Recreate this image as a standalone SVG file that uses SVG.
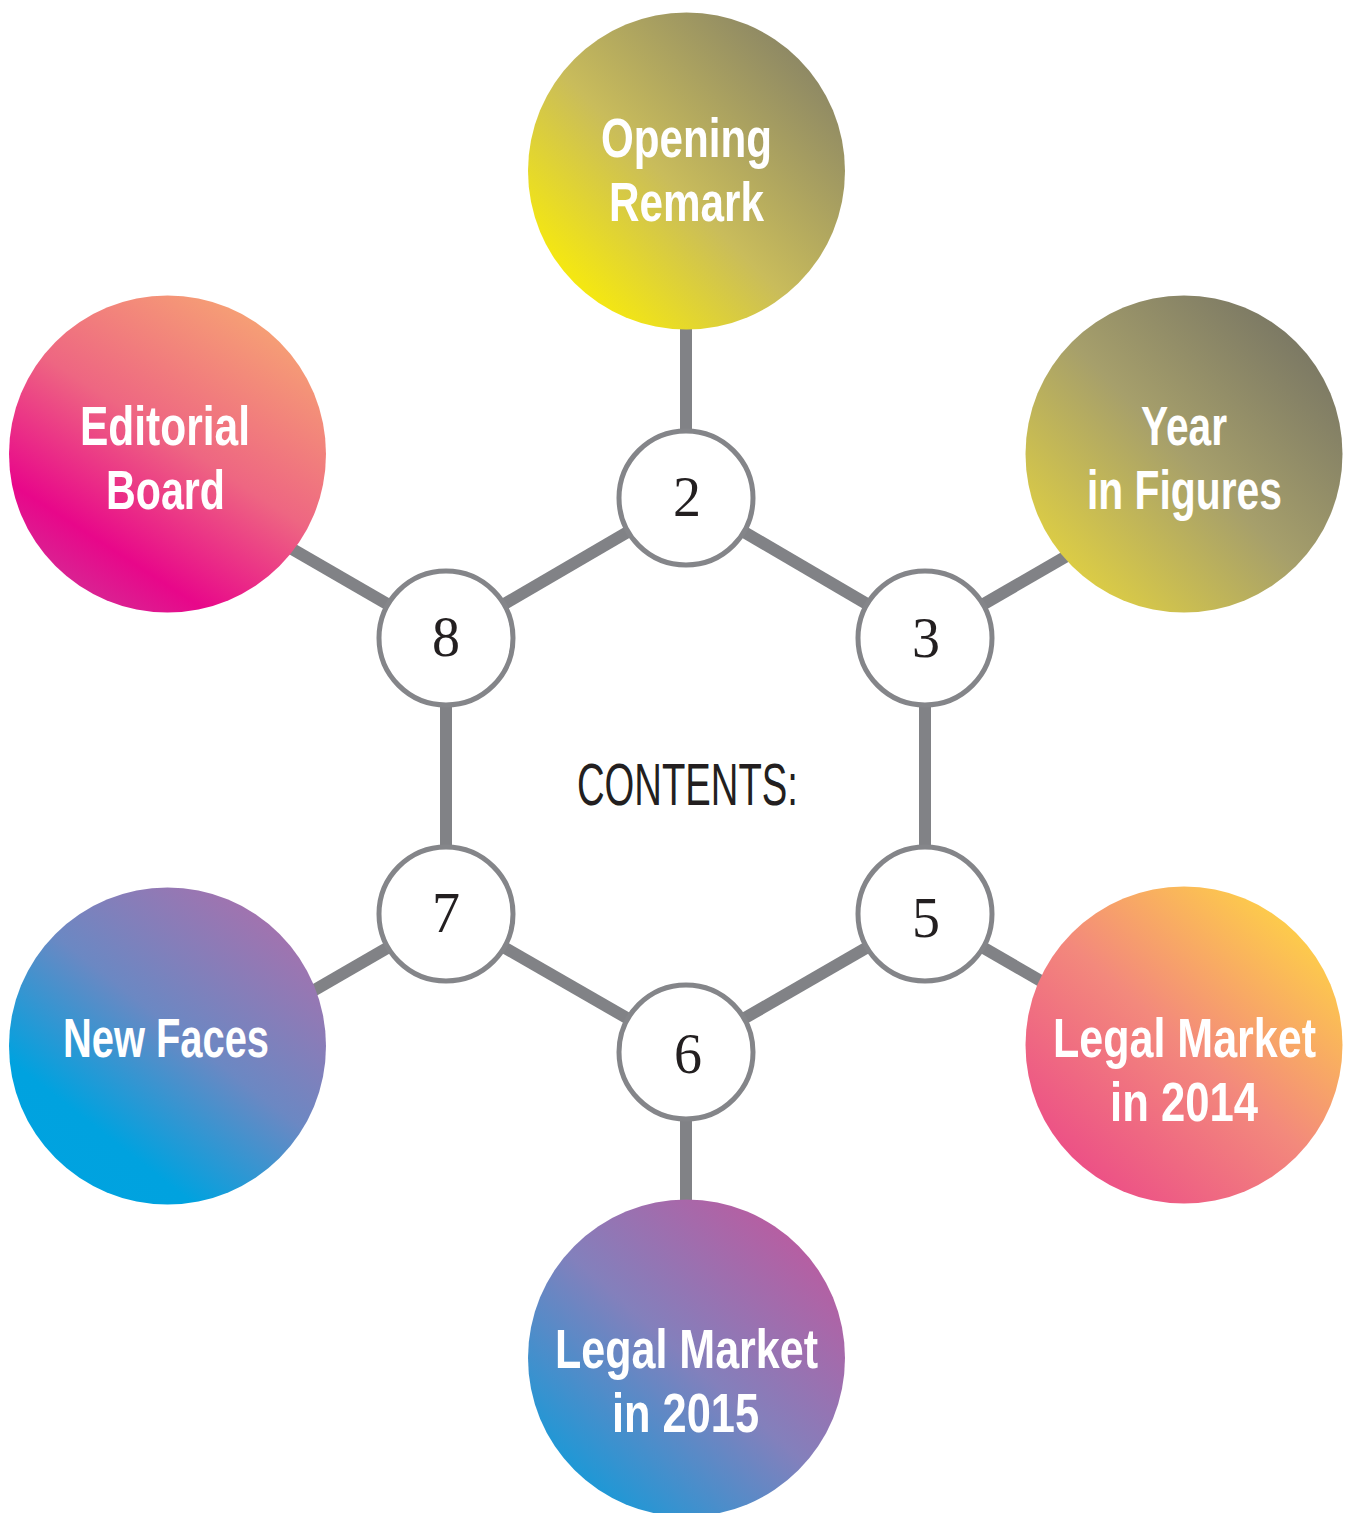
<svg xmlns="http://www.w3.org/2000/svg" width="1351" height="1513" viewBox="0 0 1351 1513">
<defs>
<style>
.link{stroke:#818286;stroke-width:12;fill:none}
.num{fill:#fff;stroke:#848589;stroke-width:5}
.numt{font-family:"Liberation Serif","DejaVu Serif",serif;font-size:56px;fill:#231f20;text-anchor:middle}
.lbl{font-family:"Liberation Sans Narrow","Liberation Sans","DejaVu Sans Condensed",sans-serif;font-weight:bold;font-size:56px;fill:#fff;text-anchor:middle}
.title{font-family:"Liberation Sans Narrow","Liberation Sans","DejaVu Sans Condensed",sans-serif;font-size:60px;fill:#231f20;text-anchor:middle}
</style>
<linearGradient id="gOpen" x1="0.1" y1="0.95" x2="0.95" y2="0.1">
<stop offset="0" stop-color="#fff200"/>
<stop offset="0.45" stop-color="#c9bc5b"/>
<stop offset="1" stop-color="#848066"/>
</linearGradient>
<linearGradient id="gYear" x1="0.1" y1="0.95" x2="0.95" y2="0.1">
<stop offset="0" stop-color="#e6d53e"/>
<stop offset="0.5" stop-color="#a69f6b"/>
<stop offset="1" stop-color="#747263"/>
</linearGradient>
<linearGradient id="gEdit" x1="0.15" y1="1" x2="0.8" y2="0">
<stop offset="0" stop-color="#cf3598"/>
<stop offset="0.22" stop-color="#e8078a"/>
<stop offset="0.55" stop-color="#ee6682"/>
<stop offset="1" stop-color="#f7a873"/>
</linearGradient>
<linearGradient id="gNew" x1="0.15" y1="0.95" x2="0.85" y2="0.05">
<stop offset="0" stop-color="#00a3e0"/>
<stop offset="0.2" stop-color="#00a2df"/>
<stop offset="0.55" stop-color="#6b88c3"/>
<stop offset="1" stop-color="#a970ac"/>
</linearGradient>
<linearGradient id="g14" x1="0.1" y1="0.95" x2="0.9" y2="0.05">
<stop offset="0" stop-color="#eb4688"/>
<stop offset="0.5" stop-color="#f3897c"/>
<stop offset="1" stop-color="#ffd842"/>
</linearGradient>
<linearGradient id="g15" x1="0.1" y1="0.95" x2="0.9" y2="0.05">
<stop offset="0" stop-color="#0a9ddb"/>
<stop offset="0.5" stop-color="#8380bc"/>
<stop offset="1" stop-color="#c0589d"/>
</linearGradient>
</defs>
<rect width="1351" height="1513" fill="#fff"/>
<g id="connectors">
<line class="link" x1="686" y1="498" x2="925" y2="638"/>
<line class="link" x1="925" y1="638" x2="925" y2="914"/>
<line class="link" x1="925" y1="914" x2="686" y2="1052"/>
<line class="link" x1="686" y1="1052" x2="446" y2="914"/>
<line class="link" x1="446" y1="914" x2="446" y2="638"/>
<line class="link" x1="446" y1="638" x2="686" y2="498"/>
<line class="link" x1="686" y1="498" x2="686" y2="250"/>
<line class="link" x1="925" y1="638" x2="1110" y2="531"/>
<line class="link" x1="925" y1="914" x2="1110" y2="1021"/>
<line class="link" x1="686" y1="1052" x2="686" y2="1290"/>
<line class="link" x1="446" y1="914" x2="261" y2="1021"/>
<line class="link" x1="446" y1="638" x2="261" y2="531"/>
</g>
<g id="node-opening">
<circle cx="686.5" cy="171" r="158.5" fill="url(#gOpen)"/>
<text class="lbl" x="686.5" y="157" textLength="171" lengthAdjust="spacingAndGlyphs">Opening</text>
<text class="lbl" x="686.5" y="221" textLength="155" lengthAdjust="spacingAndGlyphs">Remark</text>
</g>
<g id="node-year">
<circle cx="1184" cy="454" r="158.5" fill="url(#gYear)"/>
<text class="lbl" x="1184" y="445" textLength="86" lengthAdjust="spacingAndGlyphs">Year</text>
<text class="lbl" x="1184.5" y="509" textLength="195" lengthAdjust="spacingAndGlyphs">in Figures</text>
</g>
<g id="node-legal2014">
<circle cx="1184" cy="1045" r="158.5" fill="url(#g14)"/>
<text class="lbl" x="1184.5" y="1057" textLength="263" lengthAdjust="spacingAndGlyphs">Legal Market</text>
<text class="lbl" x="1184" y="1121" textLength="148" lengthAdjust="spacingAndGlyphs">in 2014</text>
</g>
<g id="node-legal2015">
<circle cx="686.5" cy="1358" r="158.5" fill="url(#g15)"/>
<text class="lbl" x="686.5" y="1368" textLength="263" lengthAdjust="spacingAndGlyphs">Legal Market</text>
<text class="lbl" x="685.5" y="1432" textLength="147" lengthAdjust="spacingAndGlyphs">in 2015</text>
</g>
<g id="node-newfaces">
<circle cx="167.5" cy="1046" r="158.5" fill="url(#gNew)"/>
<text class="lbl" x="166" y="1057" textLength="206" lengthAdjust="spacingAndGlyphs">New Faces</text>
</g>
<g id="node-editorial">
<circle cx="167.5" cy="454" r="158.5" fill="url(#gEdit)"/>
<text class="lbl" x="165" y="445" textLength="170" lengthAdjust="spacingAndGlyphs">Editorial</text>
<text class="lbl" x="165.5" y="509" textLength="119" lengthAdjust="spacingAndGlyphs">Board</text>
</g>
<g id="node-2">
<circle class="num" cx="686" cy="498" r="67"/>
<text class="numt" x="687" y="516">2</text>
</g>
<g id="node-3">
<circle class="num" cx="925" cy="638" r="67"/>
<text class="numt" x="926" y="657">3</text>
</g>
<g id="node-5">
<circle class="num" cx="925" cy="914" r="67"/>
<text class="numt" x="926" y="937">5</text>
</g>
<g id="node-6">
<circle class="num" cx="686" cy="1052" r="67"/>
<text class="numt" x="688" y="1073">6</text>
</g>
<g id="node-7">
<circle class="num" cx="446" cy="914" r="67"/>
<text class="numt" x="446" y="932">7</text>
</g>
<g id="node-8">
<circle class="num" cx="446" cy="638" r="67"/>
<text class="numt" x="446" y="656">8</text>
</g>
<g id="title">
<text class="title" x="687.5" y="805" textLength="221" lengthAdjust="spacingAndGlyphs">CONTENTS:</text>
</g>
</svg>
